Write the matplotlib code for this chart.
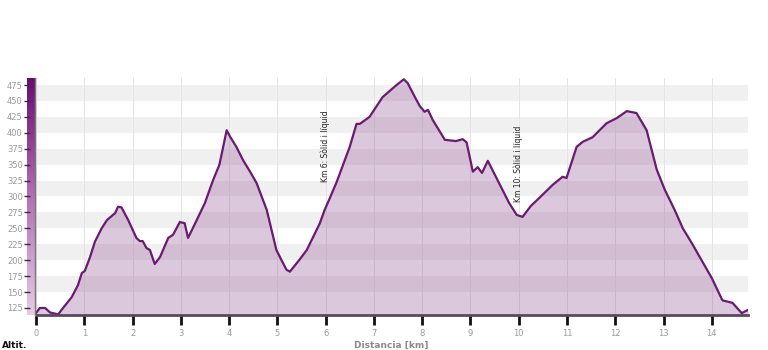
import numpy as np
import matplotlib
matplotlib.use("Agg")
import matplotlib.pyplot as plt
from matplotlib.colors import LinearSegmentedColormap

# perfil d'altitud (km, m)
km = [0, 0.08, 0.19, 0.29, 0.46, 0.56, 0.74, 0.87, 0.95, 1.01, 1.12, 1.22, 1.36, 1.47,
      1.64, 1.7, 1.77, 1.91, 2.08, 2.15, 2.21, 2.29, 2.36, 2.46, 2.57, 2.74, 2.84, 2.98,
      3.08, 3.15, 3.33, 3.5, 3.67, 3.8, 3.95, 4.02, 4.15, 4.29, 4.45, 4.57, 4.78, 4.98,
      5.1, 5.19, 5.26, 5.45, 5.61, 5.88, 5.98, 6.09, 6.23, 6.5, 6.64, 6.71, 6.91, 7.18,
      7.47, 7.62, 7.7, 7.85, 7.95, 8.05, 8.12, 8.22, 8.47, 8.7, 8.84, 8.92, 9.05, 9.15,
      9.24, 9.36, 9.6, 9.8, 9.96, 10.08, 10.25, 10.43, 10.7, 10.91, 10.99, 11.2, 11.33,
      11.53, 11.82, 12.03, 12.24, 12.44, 12.65, 12.86, 13.03, 13.23, 13.4, 13.6, 13.75,
      14.0, 14.22, 14.43, 14.62, 14.75]
alt = [117, 125, 125, 118, 115, 125, 142, 161, 180, 183, 205, 229, 250, 263,
       274, 284, 283, 263, 235, 230, 230, 219, 216, 194, 205, 235, 240, 260,
       258, 235, 263, 290, 326, 350, 404, 394, 378, 357, 337, 321, 279, 216,
       198, 185, 182, 200, 216, 258, 279, 298, 323, 378, 414, 414, 425, 456,
       475, 484, 478, 456, 442, 433, 436, 420, 389, 387, 390, 385, 339, 346,
       337, 356, 320, 290, 271, 268, 285, 298, 318, 331, 329, 378, 386,
       393, 415, 423, 434, 431, 404, 342, 310, 279, 250, 225, 205,
       172, 137, 133, 117, 122]

yticks = [125, 150, 175, 200, 225, 250, 275, 300, 325, 350, 375, 400, 425, 450, 475]
xticks = list(range(0, 15))

notes_km = [6, 10]
notes_alt = [379, 352]
notes_txt = ["Km 6: Sòlid i líquid", "Km 10: Sòlid i líquid"]

ymin, ymax = 114, 486
xmax = 14.75

fig = plt.figure(figsize=(7.68, 3.5), dpi=100)
ax = fig.add_axes([36 / 768, 1 - 315 / 350, (748 - 36) / 768, (315 - 78) / 350])
ax.set_xlim(0, xmax)
ax.set_ylim(ymin, ymax)

# bandes grises alternes
for lo in range(150, 475, 50):
    ax.axhspan(lo, lo + 25, color="#f0f0f0", lw=0, zorder=0)
for x in xticks:
    ax.axvline(x, color="#e4e4e4", lw=0.7, zorder=0.5)

ax.fill_between(km, ymin, alt, color="#8e4a91", alpha=0.3, lw=0, zorder=1)
ax.plot(km, alt, color="#6a1a70", lw=1.6, zorder=2)

for x, y, t in zip(notes_km, notes_alt, notes_txt):
    ax.text(x, y, t, rotation=90, ha="center", va="center", fontsize=5.5,
            color="#222222", zorder=3)

for s in ["top", "right", "left"]:
    ax.spines[s].set_visible(False)
ax.spines["bottom"].set_color("#5a4a5a")
ax.spines["bottom"].set_linewidth(2)
ax.set_yticks([])
ax.set_xticks(xticks)
ax.set_xticklabels([str(x) for x in xticks])
ax.tick_params(axis="x", length=7, width=2, color="#111111", labelsize=6,
               labelcolor="#9a9a9a", pad=3)

# barra de color a l'esquerra
cmap = LinearSegmentedColormap.from_list("alt", ["#e6cce6", "#b46fb6", "#6a0b70"])
cax = fig.add_axes([27 / 768, 1 - 315 / 350, 8 / 768, (315 - 78) / 350])
grad = np.linspace(0, 1, 256).reshape(-1, 1)
cax.imshow(grad, aspect="auto", cmap=cmap, origin="lower",
           extent=[0, 1, ymin, ymax])
cax.set_ylim(ymin, ymax)
cax.set_xticks([])
cax.set_yticks(yticks)
cax.set_yticklabels([str(v) for v in yticks])
cax.tick_params(axis="y", length=4, width=1, color="#333333", labelsize=6,
                labelcolor="#9a9a9a", pad=1, direction="inout")
for s in ["top", "left", "bottom"]:
    cax.spines[s].set_visible(False)
cax.spines["right"].set_color("#777777")
cax.spines["right"].set_linewidth(1)

fig.text(391 / 768, 1 - 345 / 350, "Distancia [km]", ha="center", va="center",
         fontsize=6.5, fontweight="bold", color="#8a8a8a")
fig.text(0.002, 1 - 345 / 350, "Altit.", ha="left", va="center",
         fontsize=6.5, fontweight="bold", color="#111111")

fig.savefig("out.png", dpi=100)
